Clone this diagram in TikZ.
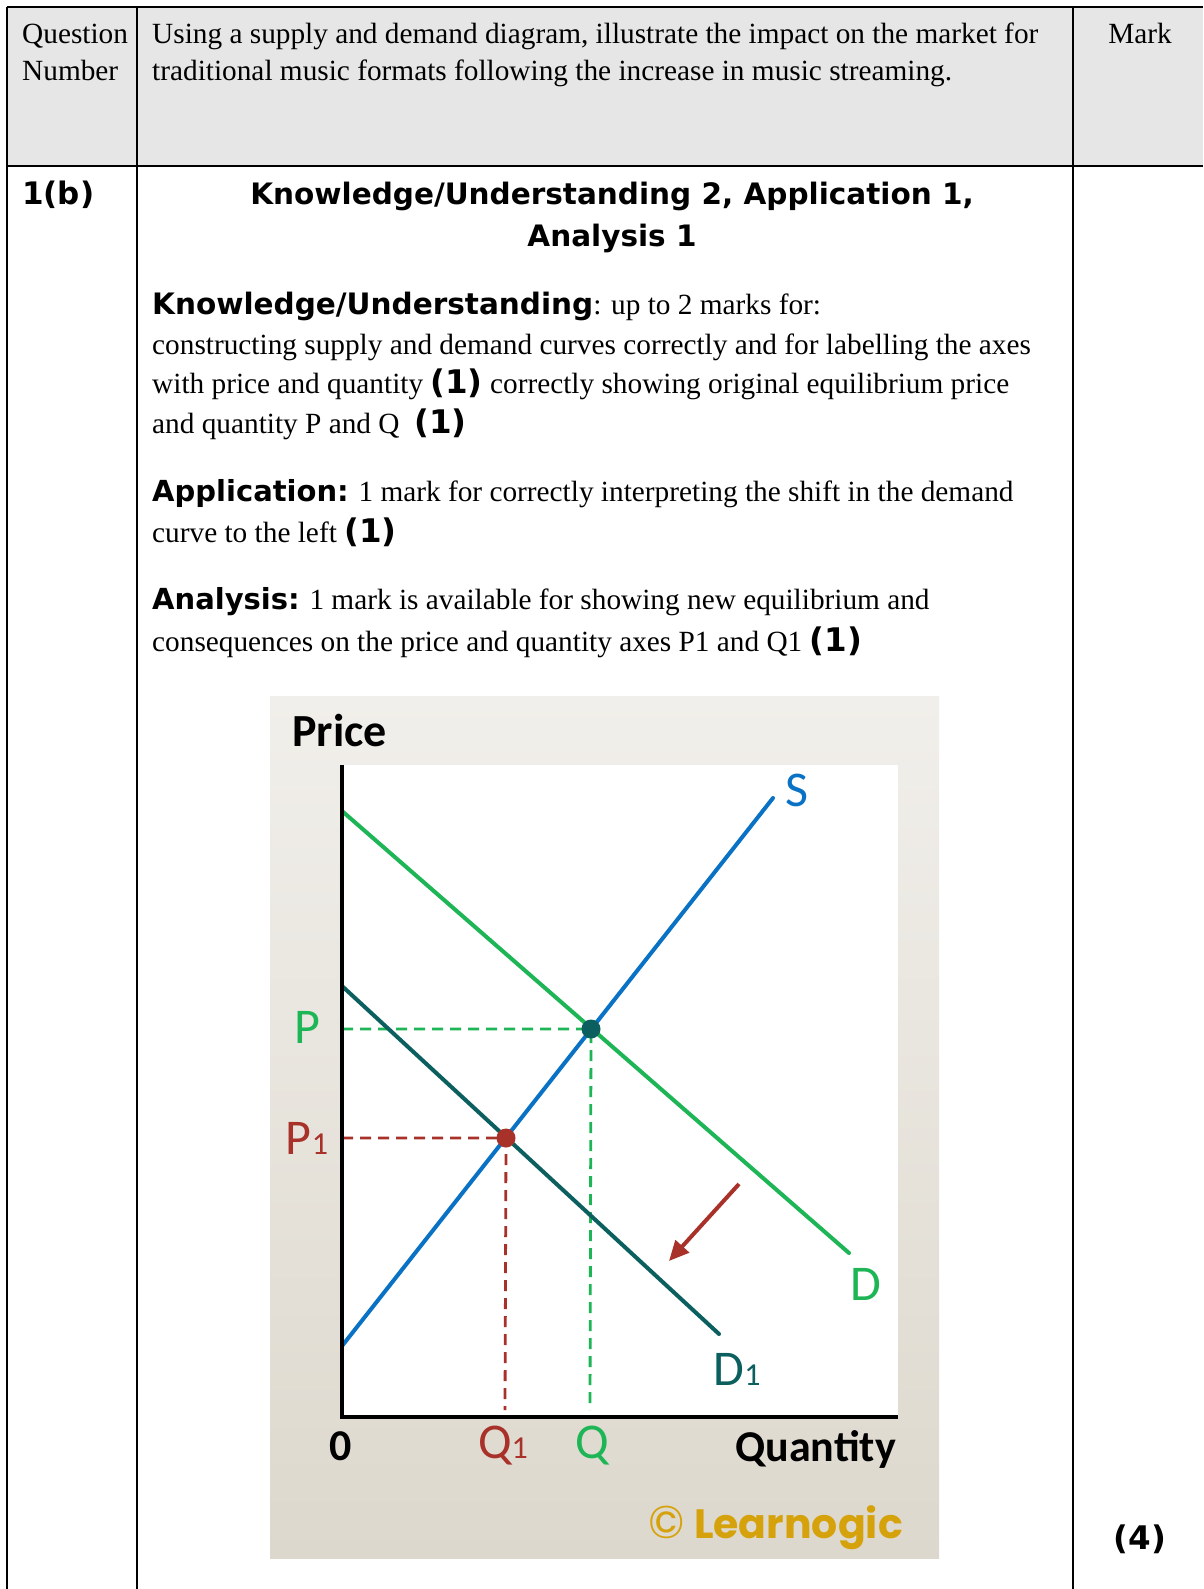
\documentclass[tikz,border=0pt]{standalone}
\usepackage{fontspec}
\setmainfont{Liberation Serif}
\newfontfamily\vbfam{DejaVu Sans}
\newfontfamily\cbfam{Carlito}
\newfontfamily\lgfam{Poppins}
\usetikzlibrary{arrows.meta}
\definecolor{hdrgray}{HTML}{E6E6E6}
\definecolor{dgreen}{HTML}{1DB555}
\definecolor{sblue}{HTML}{0A72C4}
\definecolor{dteal}{HTML}{0B5F5F}
\definecolor{dred}{HTML}{A8322A}
\definecolor{gold}{HTML}{D6A20C}
\definecolor{bgtop}{HTML}{F1EFEB}
\definecolor{bgbot}{HTML}{DDD8CD}
\newcommand\vbold[1]{{\vbfam\bfseries\fontsize{29}{30}\selectfont #1}}
\newcommand\vmark[1]{{\vbfam\bfseries\fontsize{32.5}{30}\selectfont #1}}
\begin{document}
\begin{tikzpicture}[x=1pt,y=-1pt,
  rule/.style={line width=1.6pt,black},
  txt/.style={anchor=base west,inner sep=0pt,font=\fontsize{29.3}{30}\selectfont},
  hdtxt/.style={anchor=base west,inner sep=0pt,font=\fontsize{29.3}{30}\selectfont},
  ttl/.style={anchor=base,inner sep=0pt,font=\vbfam\bfseries\fontsize{29.5}{30}\selectfont},
  curve/.style={line width=4pt,line cap=round},
  guide/.style={line width=2.8pt,dash pattern=on 11pt off 7pt},
  lab/.style={inner sep=0pt,font=\cbfam\fontsize{50}{50}\selectfont},
  axlab/.style={inner sep=0pt,font=\cbfam\bfseries\fontsize{44}{44}\selectfont},
  dot/.style={circle,inner sep=0pt,minimum size=19pt}]
\useasboundingbox (0,0) rectangle (1203,1589);
\fill[white] (0,0) rectangle (1203,1589);
% header
\fill[hdrgray] (7,7) rectangle (1203,166);
\draw[rule] (7,7) -- (1203,7);
\draw[rule] (7,7) -- (7,1589);
\draw[rule] (137,7) -- (137,1589);
\draw[rule] (1073,7) -- (1073,1589);
\draw[line width=2.2pt] (7,166) -- (1203,166);
\node[hdtxt] (q1) at (22,44) {Question};
\node[hdtxt] (q2) at (22,81) {Number};
\node[hdtxt] (h1) at (152,44) {Using a supply and demand diagram, illustrate the impact on the market for};
\node[hdtxt] (h2) at (152,81) {traditional music formats following the increase in music streaming.};
\node[anchor=base,inner sep=0pt,font=\fontsize{29.3}{30}\selectfont] (mk) at (1140,44) {Mark};
% row
\node[anchor=base west,inner sep=0pt,font=\vbfam\bfseries\fontsize{31}{30}\selectfont] (qn) at (22,205) {1(b)};
\node[ttl] (t1) at (612,205) {Knowledge/Understanding 2, Application 1,};
\node[ttl] (t2) at (612,247) {Analysis 1};
\node[txt] (k1) at (152,314) {\vbold{\fontsize{29.5}{30}\selectfont Knowledge/Understanding}: up to 2 marks for:};
\node[txt] (k2) at (152,354) {constructing supply and demand curves correctly and for labelling the axes};
\node[txt] (k3) at (152,393) {with price and quantity \vmark{(1)} correctly showing original equilibrium price};
\node[txt] (k4) at (152,433) {and quantity P and Q \ \vmark{(1)}};
\node[txt] (a1) at (152,501) {\vbold{Application:} 1 mark for correctly interpreting the shift in the demand};
\node[txt] (a2) at (152,542) {curve to the left \vmark{(1)}};
\node[txt] (n1) at (152,609) {\vbold{Analysis:} 1 mark is available for showing new equilibrium and};
\node[txt] (n2) at (152,651) {consequences on the price and quantity axes P1 and Q1 \vmark{(1)}};
\node[anchor=base,inner sep=0pt,font=\vbfam\bfseries\fontsize{32.5}{30}\selectfont] (four) at (1140,1549) {(4)};
% chart background
\shade[top color=bgtop,bottom color=bgbot] (270,696) rectangle (939,1558);
\fill[white] (342,765) rectangle (898,1417);
\coordinate (O) at (342,1417);
\coordinate (Ytop) at (342,765);
\coordinate (Xend) at (898,1417);
\coordinate (Da) at (342,811);
\coordinate (Db) at (849,1253);
\coordinate (Sa) at (342,1346);
\coordinate (Sb) at (773,798);
\coordinate (Ea) at (342,986);
\coordinate (Eb) at (719,1334);
\coordinate (Ar1) at (739,1184);
\coordinate (Ar2) at (669,1261);
\coordinate (E) at (591,1029);
\coordinate (F) at (506,1138);
\coordinate (Ebot) at (590,1410);
\coordinate (Fbot) at (505,1410);
% guides
\draw[guide,dgreen] (E -| O) -- (E) -- (Ebot);
\draw[guide,dred] (F -| O) -- (F) -- (Fbot);
% curves
\draw[curve,dgreen] (Da) -- (Db);
\draw[curve,dteal] (Ea) -- (Eb);
\draw[curve,sblue] (Sa) -- (Sb);
\draw[line width=4pt,dred,-{Triangle[length=20pt,width=18pt]}] (Ar1) -- (Ar2);
\node[dot,fill=dteal] (Edot) at (E) {};
\node[dot,fill=dred] (Fdot) at (F) {};
% axes
\draw[line width=4.5pt,black] (Ytop) -- (O) -- (Xend);
% labels
\node[axlab,anchor=base west,font=\cbfam\bfseries\fontsize{46}{46}\selectfont] (price) at (292,746) {Price};
\node[lab,sblue] (sl) at (797,790) {S};
\node[lab,dgreen] (dl) at (866,1284) {D};
\node[lab,dteal] (d1l) at (737,1369) {D\fontsize{32}{32}\selectfont1};
\node[lab,dgreen] (pl) at (307,1027) {P};
\node[lab,dred] (p1l) at (307,1138) {P\fontsize{32}{32}\selectfont1};
\node[axlab] (zero) at (341,1446) {0};
\node[lab,dred] (q1l) at (503,1446) {Q\fontsize{32}{32}\selectfont1};
\node[lab,dgreen] (ql) at (592,1446) {Q};
\node[axlab,anchor=east] (qty) at (896,1449) {Quantity};
\node[inner sep=0pt,anchor=east,gold,font=\lgfam\bfseries\fontsize{41}{41}\selectfont] (lrn) at (903,1528) {{\lgfam\mdseries\fontsize{46}{46}\selectfont\char"00A9}\ Learnogic};
\end{tikzpicture}
\end{document}
